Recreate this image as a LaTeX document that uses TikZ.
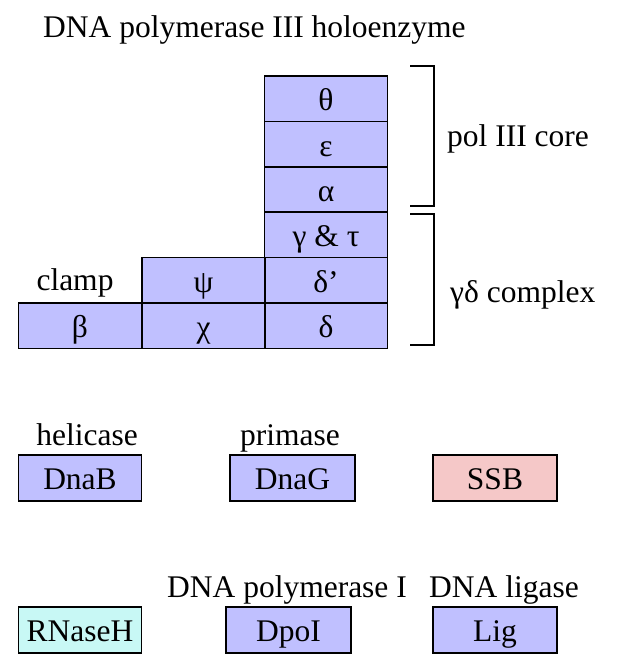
\documentclass[tikz,border=0pt]{standalone}
\usepackage{fontspec}
\setmainfont{Liberation Serif}
\definecolor{lav}{RGB}{192,192,255}
\definecolor{pinkb}{RGB}{245,200,200}
\definecolor{cyanb}{RGB}{200,248,245}
\newcommand\bigfnt{\fontsize{31.5}{36}\selectfont}
\tikzset{
  sub/.style={draw=black, line width=1.6pt, fill=lav, inner sep=0pt,
    minimum width=123pt, text height=34.5pt, text depth=11pt, font=\bigfnt},
  lbl/.style={inner sep=0pt, anchor=base, font=\bigfnt},
  brk/.style={line width=2pt}
}
\begin{document}
\begin{tikzpicture}[x=1pt,y=-1pt]
\useasboundingbox (0,0) rectangle (618,656);
% title
\node[lbl, anchor=base west] (title) at (43,37) {DNA polymerase III holoenzyme};
% right column
\node[sub] (theta) at (326,99) {θ};
\node[sub] (eps) at (326,144.3) {ε};
\node[sub] (alpha) at (326,189.6) {α};
\node[sub] (gamtau) at (326,235) {γ \& τ};
\node[sub] (dprime) at (326,280.3) {δ'};
\node[sub] (delta) at (326,325.6) {δ};
% middle column
\node[sub] (psi) at (203.5,280.3) {ψ};
\node[sub] (chi) at (203.5,325.6) {χ};
% left column
\node[sub] (beta) at (80,325.6) {β};
\node[lbl] (clamp) at (75,290) {clamp};
% brackets
\coordinate (c1a) at (410,66);
\coordinate (c1b) at (434,66);
\coordinate (c1c) at (434,206);
\coordinate (c1d) at (410,206);
\draw[brk] (c1a) -- (c1b) -- (c1c) -- (c1d);
\coordinate (c2a) at (410,214);
\coordinate (c2b) at (434,214);
\coordinate (c2c) at (434,345);
\coordinate (c2d) at (410,345);
\draw[brk] (c2a) -- (c2b) -- (c2c) -- (c2d);
\node[lbl, anchor=base west] (core) at (447,146) {pol III core};
\node[lbl, anchor=base west] (gd) at (450,302) {γδ complex};
% second row
\node[lbl] (helic) at (87,445) {helicase};
\node[sub] (dnab) at (80,478) {DnaB};
\node[lbl] (prim) at (290,445) {primase};
\node[sub, minimum width=125pt] (dnag) at (292.5,478) {DnaG};
\node[sub, fill=pinkb, minimum width=124pt] (ssb) at (495,478) {SSB};
% third row
\node[sub, fill=cyanb] (rnh) at (80,630) {RNaseH};
\node[lbl] (pol1) at (287,597) {DNA polymerase I};
\node[sub, minimum width=125pt] (dpoi) at (288.5,630) {DpoI};
\node[lbl] (lig) at (504,597) {DNA ligase};
\node[sub, minimum width=124pt] (ligb) at (495,630) {Lig};
\end{tikzpicture}
\end{document}
